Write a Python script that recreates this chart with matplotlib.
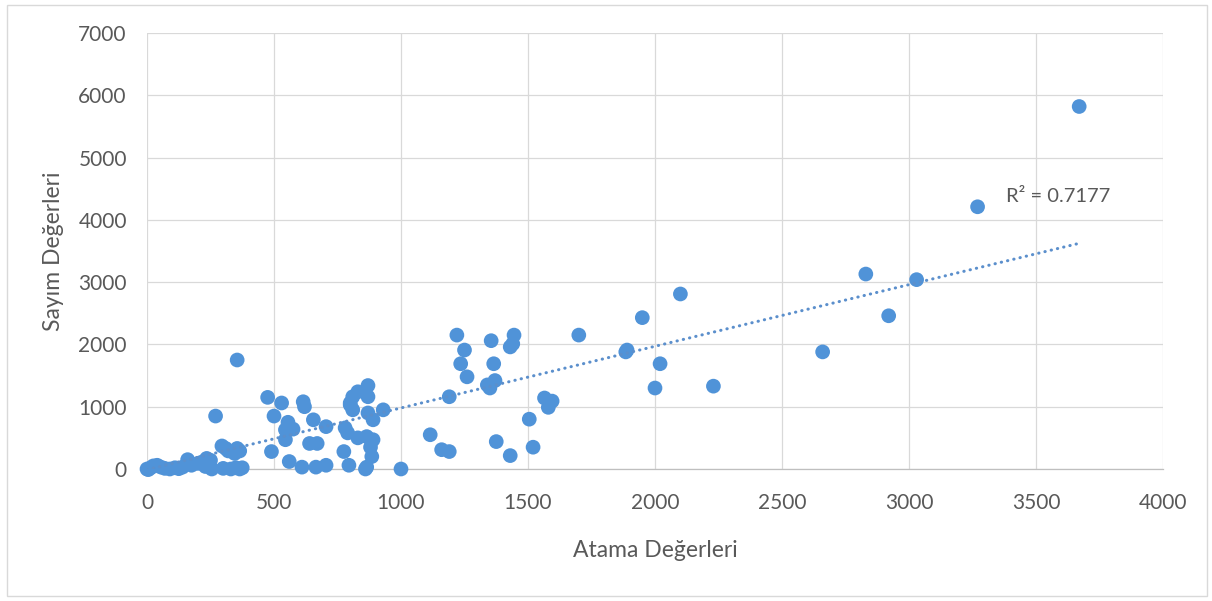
import numpy as np
import matplotlib
matplotlib.use("Agg")
import matplotlib.pyplot as plt
from matplotlib.patches import Rectangle

# Atama (assignment) vs. Sayım (count) values
atama = [
    0, 5, 15, 25, 40, 55, 70, 90, 110, 125, 140, 160, 175, 200, 215, 235, 250,
    255, 230, 270, 295, 310, 320, 355, 365, 345, 330, 350, 365, 375, 355, 300,
    475, 530, 615, 620, 500, 655, 705, 555, 545, 575, 545, 640, 670, 490, 560,
    610, 665, 705, 800, 810, 830, 870, 870, 800, 810, 870, 890, 930, 780, 790,
    830, 865, 890, 880, 775, 885, 795, 865, 1000, 860,
    1220, 1355, 1445, 1430, 1440, 1250, 1235, 1365, 1260, 1340, 1370, 1350,
    1190, 1565, 1595, 1580, 1505, 1115, 1160, 1190, 1375, 1430, 1520, 1700,
    1885, 1890, 1950, 2100, 2020, 2000, 2230, 2660, 2830, 2920, 3030, 3270, 3670,
]
sayim = [
    0, -10, 20, 50, 60, 30, 10, 0, 20, 5, 30, 150, 60, 90, 110, 170, 140,
    0, 40, 850, 370, 330, 290, 330, 290, 250, 0, 20, 0, 20, 1750, 10,
    1150, 1060, 1080, 1000, 850, 790, 680, 750, 630, 640, 470, 410, 410, 280, 120,
    30, 30, 60, 1060, 1160, 1240, 1340, 1160, 1030, 950, 900, 790, 950, 660, 580,
    500, 520, 470, 350, 280, 200, 60, 30, 0, 0,
    2150, 2060, 2150, 1960, 2010, 1910, 1690, 1690, 1480, 1350, 1420, 1300,
    1160, 1140, 1090, 990, 800, 550, 310, 280, 440, 215, 350, 2150,
    1880, 1910, 2430, 2810, 1690, 1300, 1330, 1880, 3130, 2460, 3040, 4210, 5820,
]

# linear trendline coefficients (slope, intercept) and its R² label
trend_slope = 0.99
trend_intercept = -10
r2_label = "R² = 0.7177"

x_ticks = [0, 500, 1000, 1500, 2000, 2500, 3000, 3500, 4000]
y_ticks = [0, 1000, 2000, 3000, 4000, 5000, 6000, 7000]
x_title = "Atama Değerleri"
y_title = "Sayım Değerleri"

FONT = ["Lato", "DejaVu Sans"]
TEXT = "#595959"
GRID = "#D9D9D9"
MARK = "#5093D8"
TREND = "#5B8FCC"

plt.rcParams["font.family"] = FONT

fig = plt.figure(figsize=(12.12, 6.01), dpi=100)
ax = fig.add_axes([147 / 1212, 1 - 469 / 601, (1163 - 147) / 1212, (469 - 33) / 601])

xs = np.array(atama, dtype=float)
ys = np.array(sayim, dtype=float)

ax.scatter(xs, ys, s=112, color=MARK, edgecolors="none", zorder=3, clip_on=False)

# dotted linear trendline spanning the x range of the series
tx = np.array([xs.min(), xs.max()])
ax.plot(tx, trend_slope * tx + trend_intercept, color=TREND, lw=2.2,
        linestyle=(0, (0.1, 2.0)), dash_capstyle="round", zorder=4)

ax.text(3380, 4370, r2_label, fontsize=14.5, color=TEXT, va="center", ha="left")

ax.set_xlim(0, 4000)
ax.set_ylim(0, 7000)
ax.set_xticks(x_ticks)
ax.set_yticks(y_ticks)
ax.set_xticklabels([str(t) for t in x_ticks])
ax.set_yticklabels([str(t) for t in y_ticks])
ax.tick_params(axis="both", length=0, labelsize=15, colors=TEXT)
ax.tick_params(axis="x", pad=17)
ax.tick_params(axis="y", pad=14.5)
ax.grid(True, color=GRID, lw=0.9, zorder=0)
ax.set_axisbelow(True)
for side in ["top", "right", "left"]:
    ax.spines[side].set_visible(False)
ax.spines["bottom"].set_color("#BFBFBF")
ax.spines["bottom"].set_linewidth(0.9)

ax.set_xlabel(x_title, fontsize=16.5, color=TEXT, labelpad=20)
ax.set_ylabel(y_title, fontsize=16.5, color=TEXT, labelpad=10)

fig.patches.append(Rectangle((7 / 1212, 5 / 601), 1200 / 1212, 591 / 601,
                             transform=fig.transFigure, fill=False,
                             edgecolor=GRID, lw=1.0))

fig.savefig("out.png", dpi=100)
